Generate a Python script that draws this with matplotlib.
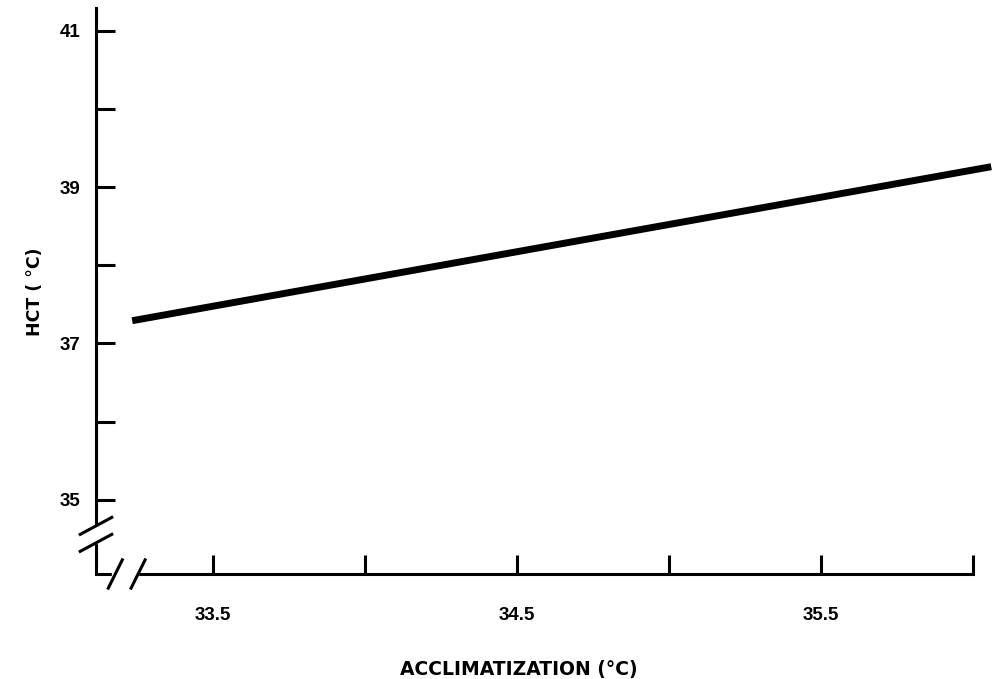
import numpy as np
import matplotlib.pyplot as plt

plt.rcParams['font.family'] = ['Liberation Sans', 'DejaVu Sans']

# regression line HCT vs acclimatization temperature (end points)
accl = [33.235, 36.06]
hct = [37.29, 39.26]

xticks = [33.5, 34.0, 34.5, 35.0, 35.5, 36.0]
xlabels = ['33.5', '', '34.5', '', '35.5', '']
yticks = [35, 36, 37, 38, 39, 40, 41]
ylabels = ['35', '', '37', '', '39', '', '41']

fig = plt.figure(figsize=(9.92, 6.79), dpi=100)
ax = fig.add_axes([96 / 992, 105 / 679, 877 / 992, 566 / 679])
ax.set_xlim(33.116, 36.0)
ax.set_ylim(34.05, 41.29)

ax.plot(accl, hct, color='black', lw=5, solid_capstyle='butt', clip_on=False)

for s in ['top', 'right']:
    ax.spines[s].set_visible(False)
ax.spines['left'].set_linewidth(2.2)
ax.spines['bottom'].set_linewidth(2.2)

ax.set_xticks(xticks)
ax.set_xticklabels(xlabels, fontsize=13.5, fontweight='bold')
ax.set_yticks(yticks)
ax.set_yticklabels(ylabels, fontsize=13.5, fontweight='bold')
ax.tick_params(axis='both', direction='in', length=14, width=2.2)
ax.tick_params(axis='x', pad=24)
ax.tick_params(axis='y', pad=11)

# axis breaks
tr = ax.transAxes
ax.add_patch(plt.Rectangle((-0.01, 0.055), 0.02, 0.03, transform=tr,
                           color='white', clip_on=False, zorder=3))
ax.add_patch(plt.Rectangle((0.018, -0.02), 0.03, 0.04, transform=tr,
                           color='white', clip_on=False, zorder=3))
for dy in [0.055, 0.085]:
    ax.plot([-0.018, 0.018], [dy - 0.015, dy + 0.015], transform=tr,
            color='black', lw=2.2, clip_on=False, zorder=4)
for dx in [0.022, 0.048]:
    ax.plot([dx - 0.008, dx + 0.008], [-0.025, 0.025], transform=tr,
            color='black', lw=2.2, clip_on=False, zorder=4)

fig.text(35 / 992, 1 - 292 / 679, 'HCT ( °C)', rotation=90,
         ha='center', va='center', fontsize=12.5, fontweight='bold',
         family='DejaVu Sans')
fig.text(519 / 992, 1 - 669 / 679, 'ACCLIMATIZATION (°C)',
         ha='center', va='center', fontsize=13.5, fontweight='bold',
         family='DejaVu Sans')

fig.savefig('out.png', dpi=100)
